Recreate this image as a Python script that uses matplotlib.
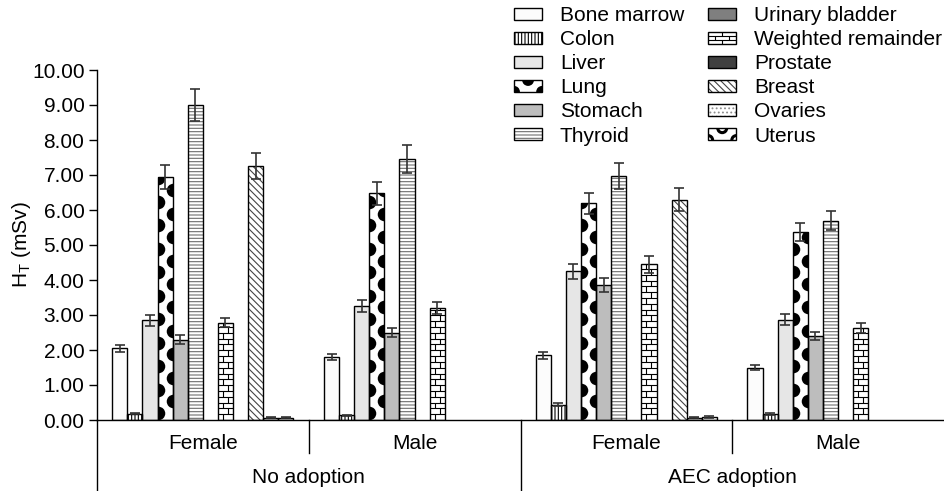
import numpy as np
import matplotlib
matplotlib.use("Agg")
import matplotlib.pyplot as plt
import matplotlib.transforms as mtransforms
from matplotlib.patches import Rectangle, Circle
from matplotlib.collections import LineCollection
from matplotlib.legend_handler import HandlerBase

plt.rcParams['font.family'] = ['Liberation Sans', 'DejaVu Sans']
plt.rcParams['mathtext.fontset'] = 'custom'
plt.rcParams['mathtext.rm'] = 'Liberation Sans'
plt.rcParams['mathtext.it'] = 'Liberation Sans:italic'
plt.rcParams['hatch.linewidth'] = 0.8

# data
organs = ["Bone marrow", "Colon", "Liver", "Lung", "Stomach", "Thyroid",
          "Urinary bladder", "Weighted remainder", "Prostate", "Breast",
          "Ovaries", "Uterus"]
sexes = ["Female", "Male", "Female", "Male"]
scenarios = ["No adoption", "AEC adoption"]

nan = np.nan
# rows: No adoption F, No adoption M, AEC F, AEC M ; columns: organs
ht_mean = np.array([
    [2.05, 0.18, 2.85, 6.95, 2.30, 9.00, nan, 2.78, nan, 7.27, 0.07, 0.07],
    [1.80, 0.13, 3.25, 6.48, 2.50, 7.45, nan, 3.20, nan, nan, nan, nan],
    [1.85, 0.44, 4.25, 6.20, 3.85, 6.98, nan, 4.45, nan, 6.30, 0.07, 0.09],
    [1.50, 0.17, 2.87, 5.38, 2.40, 5.70, nan, 2.62, nan, nan, nan, nan],
])
ht_err = np.array([
    [0.10, 0.02, 0.15, 0.35, 0.12, 0.45, nan, 0.13, nan, 0.37, 0.02, 0.02],
    [0.08, 0.02, 0.17, 0.33, 0.12, 0.40, nan, 0.17, nan, nan, nan, nan],
    [0.10, 0.05, 0.22, 0.30, 0.20, 0.37, nan, 0.24, nan, 0.32, 0.02, 0.02],
    [0.08, 0.02, 0.15, 0.26, 0.12, 0.28, nan, 0.14, nan, nan, nan, nan],
])

# fill, hatch, hatch colour, extra pattern
styles = {
    "Bone marrow": ("#fcfcfc", None, "black", None),
    "Colon": ("white", "|||||", "black", None),
    "Liver": ("#e6e6e6", None, "black", None),
    "Lung": ("white", None, "black", "dots"),
    "Stomach": ("#bdbdbd", None, "black", None),
    "Thyroid": ("white", "-----", "#6e6e6e", None),
    "Urinary bladder": ("#7f7f7f", None, "black", None),
    "Weighted remainder": ("white", None, "black", "bricks"),
    "Prostate": ("#404040", None, "black", None),
    "Breast": ("white", "\\" * 5, "#444444", None),
    "Ovaries": ("white", "....", "#8c8c8c", None),
    "Uterus": ("white", None, "black", "rings"),
}

fig = plt.figure(figsize=(9.44, 4.91), dpi=100)
ax = fig.add_axes([97 / 944, 71 / 491, 847 / 944, 350 / 491])
ax.set_xlim(0, 4)
ax.set_ylim(0, 10)

bw = 0.0713
start = 0.072
groups = np.arange(len(sexes))

for j, organ in enumerate(organs):
    face, hatch, hcol, extra = styles[organ]
    x = groups + start + (j + 0.5) * bw
    v = ht_mean[:, j]
    e = ht_err[:, j]
    ok = ~np.isnan(v)
    if not ok.any():
        continue
    filled = ax.bar(x[ok], v[ok], bw, color=face, hatch=hatch,
                    edgecolor=hcol, linewidth=0, zorder=2)
    for rect in filled:
        x0, w, h = rect.get_x(), rect.get_width(), rect.get_height()
        if extra == "dots":
            step = 0.335
            ys = np.arange(step * 0.6, h + step, step)
            xs = np.where(np.arange(len(ys)) % 2 == 0, x0, x0 + w)
            sc = ax.scatter(xs, ys, s=95, c='black', linewidths=0, zorder=3)
            sc.set_clip_path(rect)
        elif extra == "bricks":
            rh = 0.166
            segs = []
            k = 0
            while k * rh < h:
                y0 = k * rh
                y1 = min((k + 1) * rh, h)
                if k > 0:
                    segs.append([(x0, y0), (x0 + w, y0)])
                fx = 1 / 3 if k % 2 == 0 else 2 / 3
                segs.append([(x0 + fx * w, y0), (x0 + fx * w, y1)])
                k += 1
            ax.add_collection(LineCollection(segs, colors='black',
                                             linewidths=0.8, zorder=3))
    ax.bar(x[ok], v[ok], bw, fill=False, edgecolor='black',
           linewidth=1.0, zorder=4)
    ax.errorbar(x[ok], v[ok], yerr=e[ok], fmt='none', ecolor='#333333',
                elinewidth=1.2, capsize=3.6, capthick=1.2, zorder=5)

# axes styling
ax.spines['top'].set_visible(False)
ax.spines['right'].set_visible(False)
ax.spines['left'].set_linewidth(1.0)
ax.spines['bottom'].set_linewidth(1.0)
ax.set_xticks([])
ax.set_yticks(np.arange(0, 11, 1))
ax.set_yticklabels([f"{t:.2f}" for t in np.arange(0, 11, 1)])
ax.tick_params(axis='y', direction='out', length=6, width=1.0,
               labelsize=15, pad=3)
ax.set_ylabel("H$_\\mathrm{T}$ (mSv)", fontsize=15, labelpad=-1)

# grouped category axis below
trans = mtransforms.blended_transform_factory(ax.transData, ax.transAxes)
ax.plot([0, 0], [0, -0.203], transform=trans, clip_on=False,
        color='black', lw=1.0)
for xd, depth in [(1, -0.094), (2, -0.203), (3, -0.094)]:
    ax.plot([xd, xd], [0, depth], transform=trans, clip_on=False,
            color='black', lw=1.0)
for g, s in enumerate(sexes):
    ax.text(g + 0.5, -0.068, s, transform=trans, ha='center', va='center',
            fontsize=15)
for k, s in enumerate(scenarios):
    ax.text(2 * k + 1, -0.163, s, transform=trans, ha='center',
            va='center', fontsize=15)


# legend
class OrganKey:
    def __init__(self, j):
        self.j = j


class OrganHandler(HandlerBase):
    def create_artists(self, legend, orig_handle, xdescent, ydescent,
                       width, height, fontsize, trans):
        face, hatch, hcol, extra = styles[organs[orig_handle.j]]
        x0, y0 = -xdescent, -ydescent
        base = Rectangle((x0, y0), width, height, facecolor=face,
                         hatch=hatch, edgecolor=hcol, linewidth=0,
                         transform=trans)
        arts = [base]
        if extra in ("dots", "rings"):
            r = height * 0.5
            for cx, cy in [(x0, y0), (x0 + width * 0.5, y0 + height),
                           (x0 + width, y0)]:
                if extra == "dots":
                    c = Circle((cx, cy), r, facecolor='black',
                               edgecolor='none', transform=trans)
                else:
                    c = Circle((cx, cy), r * 0.75, facecolor='none',
                               edgecolor='black', linewidth=2.2,
                               transform=trans)
                c.set_clip_path(base)
                arts.append(c)
        elif extra == "bricks":
            segs = []
            nrow = 3
            rh = height / nrow
            for k in range(nrow):
                if k > 0:
                    segs.append([(x0, y0 + k * rh), (x0 + width, y0 + k * rh)])
                fxs = [0.5] if k % 2 == 0 else [0.25, 0.75]
                for fx in fxs:
                    segs.append([(x0 + fx * width, y0 + k * rh),
                                 (x0 + fx * width, y0 + (k + 1) * rh)])
            lc = LineCollection(segs, colors='black', linewidths=0.8,
                                transform=trans)
            arts.append(lc)
        outline = Rectangle((x0, y0), width, height, fill=False,
                            edgecolor='black', linewidth=1.0,
                            transform=trans)
        arts.append(outline)
        return arts


handles = [OrganKey(j) for j in range(len(organs))]
fig.legend(handles, organs, handler_map={OrganKey: OrganHandler()},
           ncol=2, loc='upper left', bbox_to_anchor=(514 / 944, 1 - 6 / 491),
           frameon=False, fontsize=15, handlelength=1.35, handleheight=0.5,
           handletextpad=0.85, columnspacing=1.15, labelspacing=0.245,
           borderpad=0, borderaxespad=0)

fig.savefig("out.png", dpi=100)
